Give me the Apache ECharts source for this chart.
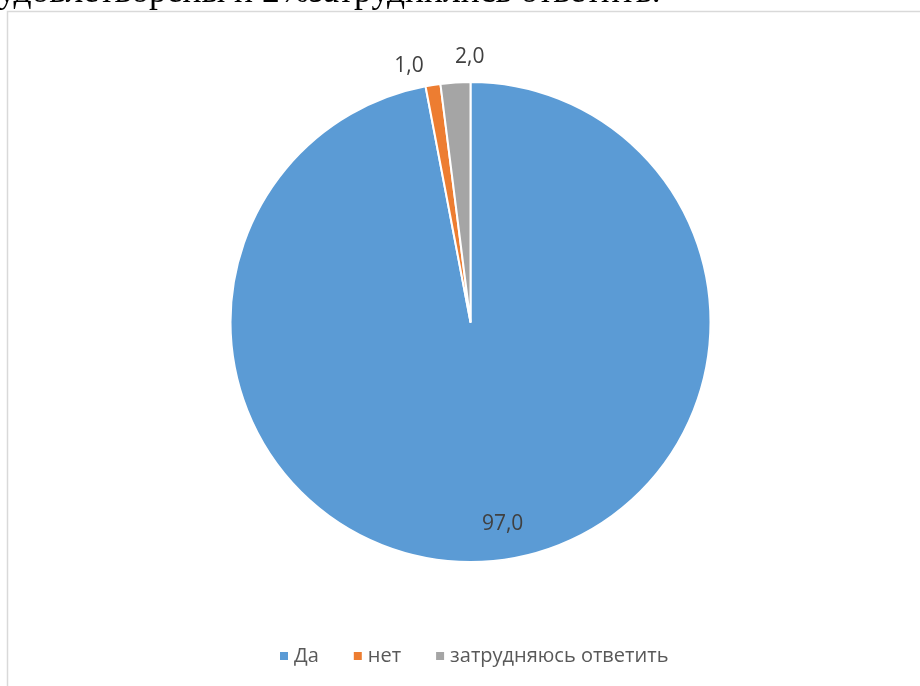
<!DOCTYPE html>
<html>
<head>
<meta charset="utf-8">
<script src="https://cdn.jsdelivr.net/npm/echarts@6/dist/echarts.min.js"></script>
<style>html,body{margin:0;padding:0;background:#fff;}#c{width:920px;height:686px;}</style>
</head>
<body>
<div id="c"></div>
<script>
const categories = ['Да', 'нет', 'затрудняюсь ответить'];
const values = [97.0, 1.0, 2.0];
const colors = ['#5B9BD5', '#ED7D31', '#A5A5A5'];
const headingText = 'удовлетворены и 2%затруднились ответить.';

const labelFont = 'Open Sans';
const center = [470.5, 322];

const mainData = categories.map((n, i) => ({ name: n, value: values[i], itemStyle: { color: colors[i] } }));

// one transparent overlay ring per data label; only that slice's label is shown
function labelData(showIndex, padding) {
  return categories.map((n, i) => ({
    name: n, value: values[i],
    label: { show: i === showIndex, padding: padding }
  }));
}

const fmtVal = v => v.toFixed(1).replace('.', ',');
const labelStyle = { position: 'inside', formatter: p => fmtVal(p.value), color: '#404040', fontFamily: labelFont, fontSize: 21 };
const overlayBase = {
  type: 'pie', center: center, silent: true, startAngle: 90, clockwise: true,
  itemStyle: { color: 'rgba(0,0,0,0)', borderWidth: 0 },
  emphasis: { disabled: true }, labelLine: { show: false }, animation: false,
  minShowLabelAngle: 0, label: labelStyle
};

const chart = echarts.init(document.getElementById('c'), null, { renderer: 'canvas' });
chart.setOption({
  animation: false,
  backgroundColor: '#ffffff',
  legend: {
    data: categories.map((n, i) => ({ name: n, itemStyle: { color: colors[i] } })),
    left: 273, top: 641,
    icon: 'rect', itemWidth: 10, itemHeight: 10, itemGap: 33,
    textStyle: { color: '#595959', fontFamily: labelFont, fontSize: 20 },
    selectedMode: false
  },
  graphic: [
    { type: 'rect', silent: true, shape: { x: 7.5, y: 11.5, width: 2000, height: 2000 },
      style: { fill: 'none', stroke: '#D9D9D9', lineWidth: 1.5 } },
    { type: 'text', silent: true, left: -2, top: -25,
      style: { text: headingText, fontFamily: 'Liberation Serif', fontSize: 35.5, fill: '#000' } }
  ],
  series: [
    {
      type: 'pie', name: 'main', center: center, radius: 240, startAngle: 90, clockwise: true,
      data: mainData, label: { show: false }, labelLine: { show: false },
      itemStyle: { borderColor: '#ffffff', borderWidth: 2 },
      emphasis: { disabled: true }, animation: false
    },
    Object.assign({}, overlayBase, { name: 'lbl0', radius: [0, 400], data: labelData(0, [0, 0, 0, 26]) }),
    Object.assign({}, overlayBase, { name: 'lbl1', radius: [248, 264], data: labelData(1, [0, 42, 0, 0]) }),
    Object.assign({}, overlayBase, { name: 'lbl2', radius: [254, 272], data: labelData(2, [0, 0, 0, 32]) })
  ]
});
</script>
</body>
</html>
